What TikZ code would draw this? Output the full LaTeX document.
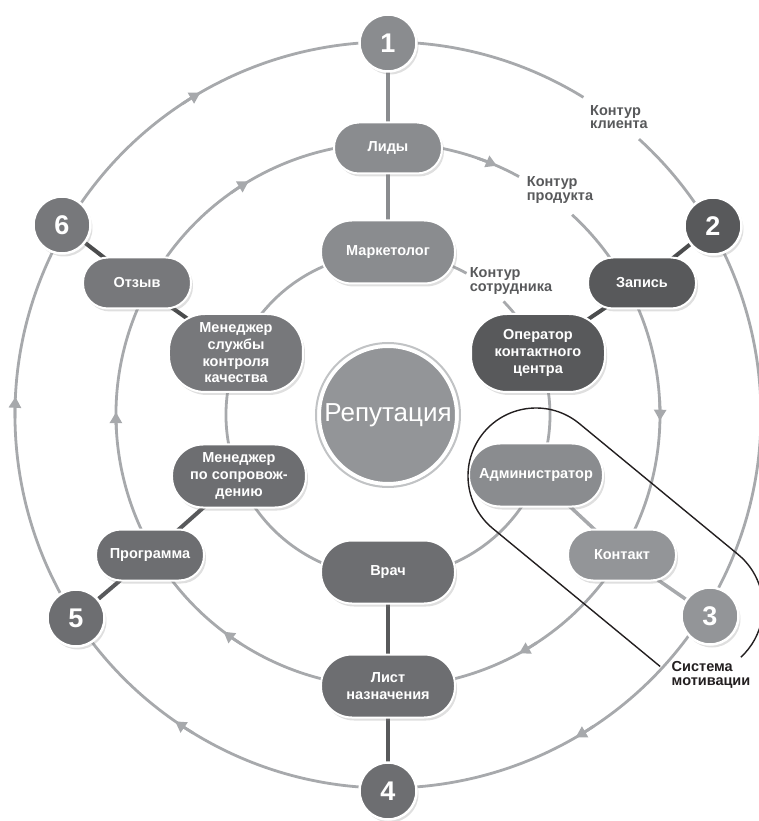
\documentclass[tikz,border=0pt]{standalone}
\usepackage{fontspec}
\setmainfont{Liberation Sans}
\usetikzlibrary{shapes.misc,shadows,arrows.meta,backgrounds}
\definecolor{ringgray}{HTML}{A7A9AC}
\definecolor{gLight}{HTML}{939598}
\definecolor{gMid}{HTML}{8A8C8F}
\definecolor{gSix}{HTML}{77787B}
\definecolor{gDark}{HTML}{6D6E71}
\definecolor{gDeep}{HTML}{58595B}
\definecolor{labelgray}{HTML}{58595B}
\definecolor{loopblack}{HTML}{231F20}
\begin{document}
\begin{tikzpicture}[x=1pt, y=1pt,
    ring/.style={draw=ringgray, line width=2.8pt},
    flow/.style={ring, -{Triangle[width=12pt,length=11pt]}},
    shade/.style={drop shadow={opacity=0.25, shadow xshift=2pt, shadow yshift=-3pt}},
    num/.style={circle, shade, draw=white, line width=2.5pt, minimum size=57pt, inner sep=0pt,
      text=white, font=\fontsize{27}{27}\selectfont\bfseries},
    role/.style={rectangle, shade, draw=white, line width=2pt, inner sep=2pt,
      text=white, align=center, font=\fontsize{14.5}{16.7}\selectfont\bfseries},
    small/.style={role, rounded corners=25pt, minimum width=108pt, minimum height=51pt},
    wide/.style={role, rounded corners=31pt, minimum width=134pt, minimum height=63pt},
    tall/.style={role, rounded corners=36pt, minimum width=134pt, minimum height=78pt},
    spoke/.style={line width=4pt, draw=gDeep},
    contour/.style={text=labelgray, align=left, font=\fontsize{14.5}{13.4}\selectfont\bfseries}]
    \useasboundingbox (-388,-406) rectangle (371,415);

    % contours
    \draw[ring] (58.4:373) arc[start angle=58.4, end angle=407.7, radius=373];
    \draw[ring] (61.2:272) arc[start angle=61.2, end angle=407.4, radius=272];
    \draw[ring] (61:162) arc[start angle=61, end angle=404.5, radius=162];
    \foreach \a in {121,178,236,301}
      \draw[flow] (\a+2.5:373) arc[start angle=\a+2.5, end angle=\a-0.8, radius=373];
    \foreach \a in {122,67.6,0,-60,234,180.6}
      \draw[flow] (\a+3.2:272) arc[start angle=\a+3.2, end angle=\a-1.2, radius=272];

    \node[circle, shade, fill=gLight, draw=white, line width=4pt, minimum size=138pt, inner sep=0pt,
      text=white, font=\fontsize{26}{26}\selectfont] (rep) at (0,0) {Репутация};
    \draw[draw=ringgray!70, line width=2pt] (rep.center) circle[radius=72];

    \node[num, fill=gMid] (n1) at (0,372) {1};
    \node[num, fill=gDeep] (n2) at (325,189) {2};
    \node[num, fill=gLight] (n3) at (322,-201) {3};
    \node[num, fill=gDark] (n4) at (0,-376) {4};
    \node[num, fill=gDark] (n5) at (-312,-203) {5};
    \node[num, fill=gSix] (n6) at (-326,190) {6};

    \node[small, fill=gMid] (leads) at (0,267) {Лиды};
    \node[small, fill=gDeep] (booking) at (254,132) {Запись};
    \node[small, fill=gLight] (contact) at (234,-140) {Контакт};
    \node[wide, fill=gDark] (sheet) at (0,-271) {Лист\\назначения};
    \node[small, fill=gDark] (program) at (-238,-140) {Программа};
    \node[small, fill=gSix] (review) at (-251,132) {Отзыв};

    \node[wide, fill=gMid] (marketer) at (0,163) {Маркетолог};
    \node[tall, fill=gDeep] (operator) at (150,62) {Оператор\\контактного\\центра};
    \node[wide, fill=gMid] (admin) at (148,-60) {Администратор};
    \node[wide, fill=gDark] (doctor) at (0,-157) {Врач};
    \node[wide, fill=gDark] (escort) at (-149,-61) {Менеджер\\по сопровож-\\дению};
    \node[tall, fill=gSix] (quality) at (-152,62) {Менеджер\\службы\\контроля\\качества};

    \begin{scope}[on background layer]
      \draw[spoke, draw=gMid, line width=3.5pt] (n1.center) -- (leads.center) -- (marketer.center);
      \draw[spoke, draw=ringgray, line width=3.5pt] (n3.center) -- (contact.center) -- (admin.center);
      \draw[spoke, draw=gDeep!85!black] (n2.center) -- (booking.center) -- (operator.center);
      \draw[spoke] (n4.center) -- (sheet.center) -- (doctor.center);
      \draw[spoke] (n5.center) -- (program.center) -- (escort.center);
      \draw[spoke, draw=gDeep!85!black] (n6.center) -- (review.center) -- (quality.center);
    \end{scope}

    \node[contour] (clientlbl) at (231,298) {Контур\\клиента};
    \node[contour] (productlbl) at (172,225) {Контур\\продукта};
    \node[contour] (stafflbl) at (123,134) {Контур\\сотрудника};
    \node[contour, text=loopblack] (motivlbl) at (323,-260) {Система\\мотивации};

    % motivation loop
    \draw[loopblack, line width=1.4pt, shift={(148,-61)}, rotate=-39.5]
      (217,-68) -- (0,-68) arc[start angle=270, end angle=90, radius=68]
      -- (206,68) arc[start angle=90, end angle=-8, radius=68];
  \end{tikzpicture}
\end{document}
